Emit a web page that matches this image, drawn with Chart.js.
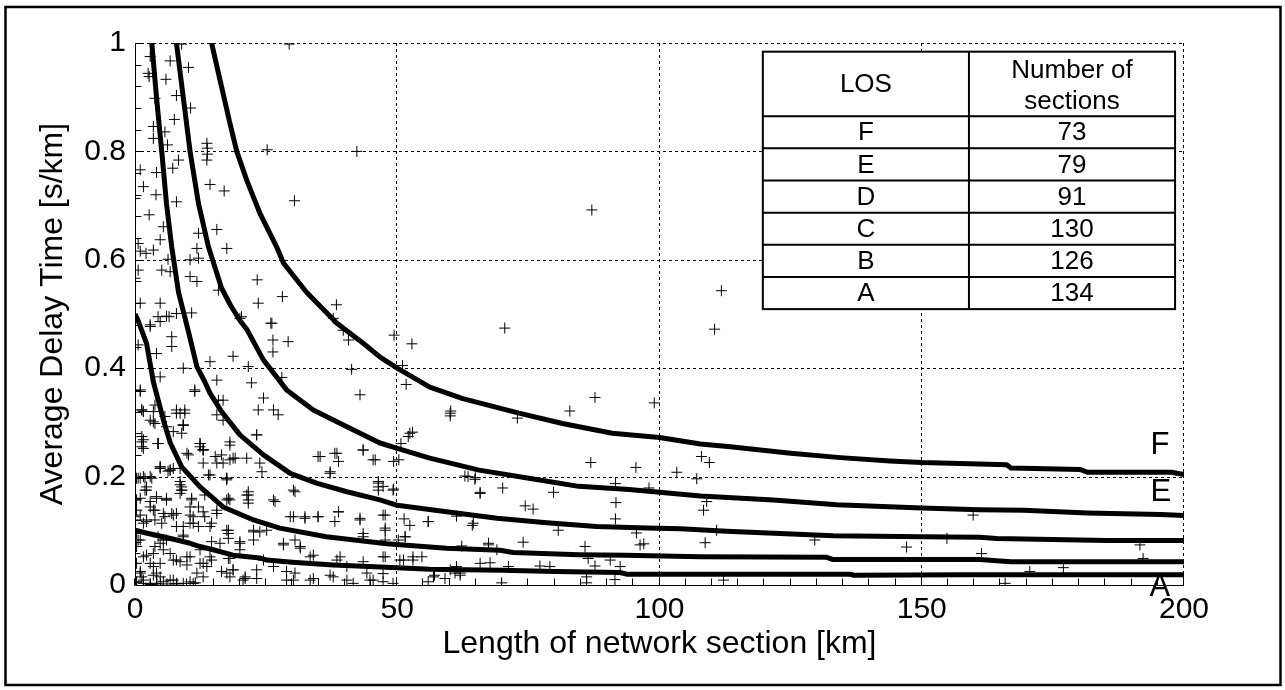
<!DOCTYPE html>
<html><head><meta charset="utf-8">
<script src="https://cdn.jsdelivr.net/npm/chart.js@4.4.1/dist/chart.umd.min.js"></script>
<style>html,body{margin:0;padding:0;background:#fff;}canvas{display:block;}</style>
</head><body>
<canvas id="c" width="1285" height="690"></canvas>
<script>
// ---------------- DATA ----------------
const xTickValues = [0, 50, 100, 150, 200];
const yTickValues = [0, 0.2, 0.4, 0.6, 0.8, 1];

// LOS table
const losLevels = ['F', 'E', 'D', 'C', 'B', 'A'];
const sectionCounts = [73, 79, 91, 130, 126, 134];

// Boundary curves (x = length km, y = delay s/km)
const curveAB_x = [0, 2.5, 5.4, 10.5, 12.4, 14.9, 18.7, 23.8, 25.1, 30, 37.8, 46.8, 50, 56.2, 70, 80, 92.5, 93.7, 107.8, 136.3, 137, 157.3, 200];
const curveAB_y = [0.101, 0.095, 0.089, 0.077, 0.071, 0.065, 0.055, 0.050, 0.046, 0.042, 0.037, 0.033, 0.032, 0.029, 0.027, 0.025, 0.023, 0.020, 0.020, 0.020, 0.018, 0.019, 0.019];

const curveBC_x = [0, 0.5, 2.2, 3.5, 5.4, 6.7, 8.9, 12.4, 16.8, 22.6, 27.6, 36.5, 48, 59.4, 69.6, 72.1, 84.6, 93.5, 107.8, 131.9, 133.1, 161, 167, 200];
const curveBC_y = [0.50, 0.49, 0.446, 0.375, 0.305, 0.263, 0.218, 0.181, 0.144, 0.12, 0.105, 0.089, 0.076, 0.068, 0.064, 0.060, 0.056, 0.055, 0.052, 0.051, 0.047, 0.047, 0.043, 0.043];

const curveCD_x = [3.2, 4.1, 5.1, 6.0, 7.0, 8.3, 10.2, 11.8, 13.3, 14.3, 16.5, 20, 24.5, 29.6, 34.6, 40.4, 46.7, 50, 59.4, 69, 78.5, 88, 97.6, 104, 112.8, 133.1, 150, 161, 164.3, 185.3, 200];
const curveCD_y = [1.0, 0.90, 0.80, 0.704, 0.624, 0.54, 0.467, 0.403, 0.375, 0.354, 0.32, 0.277, 0.24, 0.206, 0.188, 0.172, 0.157, 0.147, 0.135, 0.123, 0.115, 0.108, 0.105, 0.104, 0.099, 0.091, 0.089, 0.088, 0.086, 0.082, 0.082];

const curveDE_x = [7.9, 9.2, 10.5, 12.1, 14.0, 16.5, 18.1, 20, 21.3, 24.5, 28.9, 34, 40.4, 46.7, 50, 56.2, 65.6, 75.1, 84.6, 94.2, 100, 107.8, 121.7, 133.8, 150, 161, 169.4, 181.6, 195.6, 200];
const curveDE_y = [1.0, 0.90, 0.80, 0.704, 0.624, 0.548, 0.518, 0.488, 0.472, 0.415, 0.36, 0.323, 0.292, 0.262, 0.252, 0.234, 0.212, 0.197, 0.182, 0.176, 0.171, 0.164, 0.157, 0.148, 0.142, 0.139, 0.138, 0.133, 0.13, 0.128];

const curveEF_x = [14.6, 16.2, 18.1, 19.4, 21.3, 23.8, 27, 28.3, 32.7, 38.5, 43.5, 46.8, 50, 56.2, 62.5, 73.2, 81.5, 91, 100, 107.8, 113.5, 125, 134.5, 143.9, 150, 157.3, 166.2, 167, 180.3, 181.6, 197.6, 200];
const curveEF_y = [1.0, 0.932, 0.852, 0.8, 0.747, 0.686, 0.624, 0.594, 0.54, 0.483, 0.446, 0.42, 0.40, 0.365, 0.344, 0.317, 0.298, 0.28, 0.272, 0.26, 0.255, 0.243, 0.235, 0.229, 0.226, 0.224, 0.222, 0.216, 0.213, 0.208, 0.208, 0.204];

// Observed network sections [length km, delay s/km]
const sectionsSparse = [
[29.4,0.998],[25.2,0.803],[42.3,0.80],[30.4,0.709],[87.1,0.692],[23.3,0.563],[23.5,0.52],[28.1,0.532],[38.4,0.517],[25.9,0.483],[37.8,0.492],[70.5,0.474],[111.8,0.543],[110.5,0.472],[99.0,0.336],[87.7,0.346],[49.4,0.461],[52.8,0.445],[51.0,0.405],[51.7,0.37],[60.2,0.321],[60.1,0.312],[72.9,0.308],[82.9,0.321],[52.9,0.282],[52.1,0.274],[50.7,0.261],[50.3,0.231],[49.3,0.228],[86.9,0.226],[95.5,0.217],[103.3,0.208],[107.1,0.196],[62.9,0.201],[64.8,0.195],[65.8,0.171],[70.1,0.179],[79.8,0.171],[91.6,0.187],[91.7,0.152],[98.0,0.179],[49.3,0.177],[47.3,0.182],[47.7,0.129],[47.7,0.101],[74.4,0.146],[75.9,0.14],[51.3,0.122],[52.4,0.11],[55.9,0.117],[61.3,0.127],[64.3,0.11],[80.7,0.101],[91.6,0.122],[95.6,0.096],[74.0,0.079],[96.3,0.074],[97.0,0.076],[85.8,0.071],[62.3,0.072],[67.4,0.074],[69.0,0.065],[51.5,0.089],[50.2,0.083],[47.7,0.083],[47.7,0.052],[50.5,0.046],[53.0,0.052],[54.7,0.052],[67.7,0.041],[71.2,0.034],[77.2,0.035],[79.1,0.034],[86.4,0.049],[87.7,0.035],[90.6,0.046],[92.5,0.034],[61.3,0.034],[60.1,0.028],[62.0,0.018],[59.1,0.012],[55.9,0.006],[57.1,0.018],[69.9,0.004],[86.1,0.015],[86.1,0.004],[91.5,0.010],[47.3,0.006],[49.2,0.003],[47.3,0.021],
[108.0,0.237],[109.5,0.226],[108.4,0.138],[109.0,0.154],[110.9,0.101],[108.7,0.078],[129.6,0.083],[147.1,0.07],[112.2,0.009],[154.8,0.086],[159.8,0.129],[161.4,0.058],[170.6,0.025],[177.0,0.032],[165.9,0.003],[192.2,0.049],[191.6,0.074]
];
const sectionsUpperLeft = [
[8.9,0.998],[2.9,0.975],[6.7,0.967],[10.2,0.955],[2.5,0.944],[2.7,0.938],[5.9,0.933],[3.8,0.898],[7.9,0.903],[10.6,0.88],[7.5,0.859],[3.5,0.846],[3.5,0.824],[5.7,0.836],[6.2,0.812],[13.7,0.815],[13.8,0.806],[13.8,0.795],[13.7,0.784],[8.3,0.784],[7.2,0.769],[1.0,0.766],[4.1,0.761],[1.6,0.735],[14.3,0.739],[17.0,0.727],[4.0,0.72],[7.9,0.707],[0.0,0.713],[2.7,0.683],[5.4,0.661],[15.6,0.656],[12.1,0.649],[4.8,0.637],[0.6,0.63],[17.5,0.621],[11.8,0.621],[3.5,0.618],[1.0,0.616],[2.1,0.612],[10.5,0.6],[12.1,0.603],[6.3,0.601],[0.6,0.581],[5.1,0.581],[6.7,0.578],[10.5,0.569],[11.8,0.56],[0.0,0.566],[15.9,0.544],[1.0,0.52],[4.8,0.52],[7.9,0.501],[10.8,0.502],[4.4,0.495],[6.0,0.496],[2.9,0.48],[26.1,0.483],[20.3,0.495]
];
const sectionsMidLeft = [
[20.0,0.492],[2.9,0.477],[4.8,0.486],[6.5,0.495],[39.7,0.47],[40.7,0.452],[7.0,0.458],[0.6,0.443],[7.0,0.44],[26.3,0.452],[26.3,0.43],[29.2,0.449],[18.7,0.422],[4.1,0.427],[14.3,0.412],[9.2,0.4],[21.6,0.403],[41.3,0.398],[4.8,0.384],[28.0,0.383],[15.6,0.378],[11.4,0.36],[1.0,0.36],[22.2,0.373],[42.9,0.351],[24.5,0.345],[15.9,0.341],[16.8,0.341],[23.5,0.323],[26.4,0.323],[27.3,0.314],[1.3,0.323],[7.9,0.323],[9.5,0.323],[3.5,0.32],[9.2,0.295],[3.8,0.298],[5.7,0.311],[15.6,0.314],[16.8,0.304],[7.3,0.283],[8.9,0.28],[23.2,0.277],[1.3,0.274],[1.3,0.255],[4.4,0.261],[12.4,0.261],[13.0,0.249],[18.1,0.258],[10.2,0.24],[16.5,0.24],[18.7,0.234],[21.3,0.234],[35.3,0.237],[38.1,0.243],[38.8,0.228],[43.5,0.249],[45.8,0.231],[15.6,0.225],[13.0,0.225],[23.8,0.225],[4.8,0.218],[7.3,0.215],[6.3,0.21],[14.3,0.203],[17.5,0.197],[24.2,0.209],[37.2,0.206],[0.3,0.197],[1.6,0.2],[3.2,0.197],[8.6,0.185],[1.9,0.175],[8.9,0.175],[21.6,0.172],[21.6,0.157],[30.5,0.172],[46.4,0.188],[46.4,0.175],[26.7,0.154],[0.0,0.157],[2.9,0.154],[6.0,0.157],[10.8,0.157],[12.1,0.144],[17.5,0.157],[18.1,0.157],[0.3,0.138],[3.8,0.138],[7.0,0.132],[10.5,0.129],[13.3,0.126],[15.6,0.138],[30.2,0.126],[32.4,0.123],[34.9,0.126],[38.8,0.135],[38.1,0.117],[42.9,0.12],[0.0,0.12],[2.2,0.117],[5.1,0.114],[7.9,0.108],[11.1,0.114],[14.3,0.108],[17.8,0.101],[22.6,0.101],[25.1,0.101],[0.3,0.095],[1.0,0.083],[5.4,0.083],[9.2,0.089],[14.6,0.08],[17.8,0.086],[20.0,0.08],[28.3,0.074],[30.5,0.083],[31.5,0.068],[43.5,0.089],[0.0,0.058],[1.6,0.052],[3.8,0.071],[3.5,0.034],[6.7,0.058],[9.9,0.052],[12.4,0.04],[18.1,0.049],[24.5,0.046],[26.4,0.034],[33.4,0.052],[38.5,0.046],[43.5,0.043],[1.3,0.015],[4.8,0.015],[7.3,0.009],[13.0,0.015],[18.7,0.028],[21.0,0.015],[30.2,0.009],[28.9,0.025],[34.0,0.012],[37.2,0.018],[40.4,0.009],[44.8,0.009],[0.3,0.005],[2.9,0.001],[4.2,0.002],[6.1,0.002],[8.0,0.002]
];
const sectionsDenseLeft = [
[1.0,0.357],[1.6,0.32],[3.8,0.332],[3.5,0.301],[7.9,0.317],[9.5,0.317],[9.2,0.295],[11.4,0.357],[1.6,0.268],[1.6,0.252],[4.4,0.261],[6.0,0.292],[12.4,0.261],[13.0,0.249],[18.1,0.264],[9.9,0.243],[15.3,0.237],[16.8,0.225],[18.1,0.231],[19.1,0.234],[4.8,0.215],[6.7,0.212],[8.6,0.215],[14.0,0.203],[17.5,0.197],[0.6,0.197],[2.9,0.2],[2.2,0.181],[8.9,0.181],[8.6,0.169],[1.0,0.16],[4.1,0.16],[6.0,0.16],[10.8,0.16],[13.3,0.166],[17.8,0.16],[21.6,0.166],[21.6,0.151],[2.9,0.144],[5.4,0.132],[7.3,0.129],[11.1,0.126],[13.0,0.135],[14.6,0.114],[15.6,0.132],[0.0,0.126],[1.6,0.114],[3.8,0.12],[9.2,0.108],[12.1,0.108],[17.8,0.095],[20.0,0.077],[22.6,0.098],[0.6,0.083],[4.8,0.077],[5.4,0.065],[3.5,0.058],[7.3,0.046],[8.6,0.043],[10.5,0.052],[13.0,0.04],[14.6,0.046],[17.8,0.049],[16.5,0.025],[18.7,0.028],[21.0,0.012],[0.3,0.04],[1.0,0.025],[2.9,0.04],[1.6,0.009],[4.1,0.022],[6.7,0.009],[5.4,0.006],[10.5,0.006],[11.5,0.004],
[1.3,0.323],[2.9,0.304],[8.6,0.317],[9.2,0.295],[1.3,0.264],[4.4,0.261],[12.4,0.255],[13.0,0.25],[4.8,0.218],[6.7,0.212],[1.0,0.197],[1.9,0.197],[8.6,0.191],[8.9,0.175],[2.2,0.175],[4.1,0.163],[0.3,0.157],[6.0,0.157],[10.5,0.144],[3.5,0.138],[5.7,0.126],[7.9,0.132],[10.5,0.114],[1.0,0.129],[2.2,0.12],[4.4,0.089],[6.0,0.083],[9.2,0.092],[12.4,0.065],[0.3,0.071],[2.2,0.055],[4.8,0.04],[7.9,0.046],[9.9,0.037],[13.7,0.034],[1.0,0.022],[3.5,0.018],[11.8,0.022],[0.3,0.006],[1.6,0.003],[2.9,0.003],[4.1,0.003],[7.9,0.003],[9.2,0.003],[11.1,0.003],[18.1,0.015],[20.6,0.009],[23.2,0.012],[28.9,0.009],[30.5,0.022],[33.4,0.009],[37.8,0.015],[41.6,0.003],[45.4,0.009],[47.3,0.052],[51.5,0.089],[55.9,0.117],[64.5,0.114],[67.4,0.077],[62.0,0.022],[61.0,0.022],[65.8,0.04],[56.9,0.015],[60.1,0.317],[52.4,0.28],[63.5,0.2],[64.9,0.198],[65.8,0.169],[46.4,0.191],[46.4,0.181],[49.2,0.175],[43.5,0.249],[45.4,0.231],[34.9,0.237],[38.5,0.243],[37.2,0.209],[23.2,0.277],[30.2,0.175],[26.4,0.157],[21.3,0.166],[17.5,0.194],[29.6,0.126],[32.4,0.126],[34.9,0.126],[38.8,0.135],[42.9,0.123],[47.3,0.129],[47.7,0.105],[43.5,0.095],[28.3,0.077],[31.5,0.071],[34.0,0.055],[39.1,0.052],[40.4,0.034],[44.2,0.022],[51.2,0.046],[53.0,0.046],[23.2,0.028],[17.5,0.022],[20.0,0.065],[22.6,0.083],[23.8,0.098],[16.2,0.077],[14.3,0.052],[17.5,0.101]
];

// Curve labels [text, x, y]
const curveLabels = [['F', 195.4, 0.258], ['E', 195.6, 0.17], ['A', 195.4, -0.004]];

// ---------------- CHART ----------------
const FONT = "'Liberation Sans', Arial, Helvetica, sans-serif";
const toXY = (xs, ys) => xs.map((v, i) => ({x: v, y: ys[i]}));
const allSections = [].concat(sectionsSparse, sectionsUpperLeft, sectionsMidLeft, sectionsDenseLeft).map(p => ({x: p[0], y: p[1]}));

const curveStyle = {type: 'line', showLine: true, borderColor: '#000', borderWidth: 5, pointRadius: 0, tension: 0, fill: false, borderJoinStyle: 'round', borderCapStyle: 'butt'};

const decorPlugin = {
  id: 'decor',
  beforeDatasetsDraw(chart) {
    const {ctx, chartArea: a, scales: {x, y}} = chart;
    ctx.save();
    ctx.strokeStyle = '#000';
    ctx.lineWidth = 1;
    ctx.setLineDash([3, 3]);
    xTickValues.slice(1).forEach(v => {
      const px = Math.round(x.getPixelForValue(v)) - 0.5;
      ctx.beginPath(); ctx.moveTo(px, a.top); ctx.lineTo(px, a.bottom); ctx.stroke();
    });
    yTickValues.slice(1).forEach(v => {
      const py = Math.round(y.getPixelForValue(v)) + 0.5;
      ctx.beginPath(); ctx.moveTo(a.left, py); ctx.lineTo(a.right, py); ctx.stroke();
    });
    ctx.setLineDash([]);
    ctx.beginPath();
    const lx = Math.round(a.left) + 0.5, by = Math.round(a.bottom) + 0.5;
    ctx.moveTo(lx, a.top); ctx.lineTo(lx, by); ctx.lineTo(a.right, by);
    for (let k = 0; k <= 40; k++) {
      const px = Math.round(x.getPixelForValue(k * 5)) - 0.5;
      ctx.moveTo(px, by); ctx.lineTo(px, by - 7);
    }
    for (let k = 0; k <= 25; k++) {
      const py = Math.round(y.getPixelForValue(k * 0.04)) + 0.5;
      ctx.moveTo(lx, py); ctx.lineTo(lx + 6, py);
    }
    ctx.stroke();
    ctx.restore();
  },
  afterDatasetsDraw(chart) {
    const {ctx, scales: {x, y}} = chart;
    ctx.save();
    const L = x.getPixelForValue(119.7), R = x.getPixelForValue(198.3), M = x.getPixelForValue(159.0);
    const T = y.getPixelForValue(0.984), B = y.getPixelForValue(0.509), H = y.getPixelForValue(0.865);
    ctx.fillStyle = '#fff';
    ctx.fillRect(L, T, R - L, B - T);
    ctx.strokeStyle = '#000';
    ctx.lineWidth = 2;
    ctx.strokeRect(L, T, R - L, B - T);
    ctx.beginPath();
    ctx.moveTo(M, T); ctx.lineTo(M, B);
    const rowH = (B - H) / losLevels.length;
    for (let i = 0; i < losLevels.length; i++) {
      const ry = H + i * rowH;
      ctx.moveTo(L, ry); ctx.lineTo(R, ry);
    }
    ctx.stroke();
    ctx.fillStyle = '#000';
    ctx.font = '26px ' + FONT;
    ctx.textAlign = 'center';
    ctx.textBaseline = 'middle';
    ctx.fillText('LOS', (L + M) / 2, (T + H) / 2 + 1);
    ctx.fillText('Number of', (M + R) / 2, T + (H - T) * 0.29);
    ctx.fillText('sections', (M + R) / 2, T + (H - T) * 0.77);
    losLevels.forEach((lv, i) => {
      const cy = H + (i + 0.5) * rowH + 1;
      ctx.fillText(lv, (L + M) / 2, cy);
      ctx.fillText(String(sectionCounts[i]), (M + R) / 2, cy);
    });
    ctx.font = '31px ' + FONT;
    curveLabels.forEach(([t, vx, vy]) => {
      ctx.fillText(t, x.getPixelForValue(vx), y.getPixelForValue(vy));
    });
    ctx.restore();
  },
  afterDraw(chart) {
    const {ctx} = chart;
    ctx.save();
    ctx.strokeStyle = '#000';
    ctx.lineWidth = 2.5;
    ctx.strokeRect(5.5, 7, 1275, 678);
    ctx.restore();
  }
};

new Chart(document.getElementById('c'), {
  type: 'scatter',
  data: {
    datasets: [
      {label: 'Sections', data: allSections, pointStyle: 'cross', pointRadius: 5.5, pointBorderWidth: 1, borderColor: '#000', backgroundColor: '#000', showLine: false, order: 2},
      Object.assign({label: 'A/B', data: toXY(curveAB_x, curveAB_y), order: 1}, curveStyle),
      Object.assign({label: 'B/C', data: toXY(curveBC_x, curveBC_y), order: 1}, curveStyle),
      Object.assign({label: 'C/D', data: toXY(curveCD_x, curveCD_y), order: 1}, curveStyle),
      Object.assign({label: 'D/E', data: toXY(curveDE_x, curveDE_y), order: 1}, curveStyle),
      Object.assign({label: 'E/F', data: toXY(curveEF_x, curveEF_y), order: 1}, curveStyle)
    ]
  },
  options: {
    responsive: false,
    animation: false,
    devicePixelRatio: 1,
    layout: {padding: {left: 0, right: 101, top: 43, bottom: 0}},
    plugins: {legend: {display: false}, tooltip: {enabled: false}},
    scales: {
      x: {
        type: 'linear', min: 0, max: 200,
        grid: {display: false, drawTicks: false},
        border: {display: false},
        afterBuildTicks(s) { s.ticks = xTickValues.map(v => ({value: v})); },
        afterFit(s) { s.height = 105; },
        ticks: {color: '#000', font: {family: FONT, size: 30}, padding: 7, maxRotation: 0, autoSkip: false,
                callback: v => String(v)},
        title: {display: true, text: 'Length of network section [km]', color: '#000', font: {family: FONT, size: 32}, padding: {top: 0, bottom: 27}}
      },
      y: {
        type: 'linear', min: 0, max: 1,
        grid: {display: false, drawTicks: false},
        border: {display: false},
        afterBuildTicks(s) { s.ticks = yTickValues.map(v => ({value: v})); },
        afterFit(s) { s.width = 135; },
        ticks: {color: '#000', font: {family: FONT, size: 30}, padding: 9, autoSkip: false,
                callback: v => String(Number(v.toFixed(2)))},
        title: {display: true, text: 'Average Delay Time [s/km]', color: '#000', font: {family: FONT, size: 32}, padding: {top: 34, bottom: 0}}
      }
    }
  },
  plugins: [decorPlugin]
});
</script>
</body></html>
